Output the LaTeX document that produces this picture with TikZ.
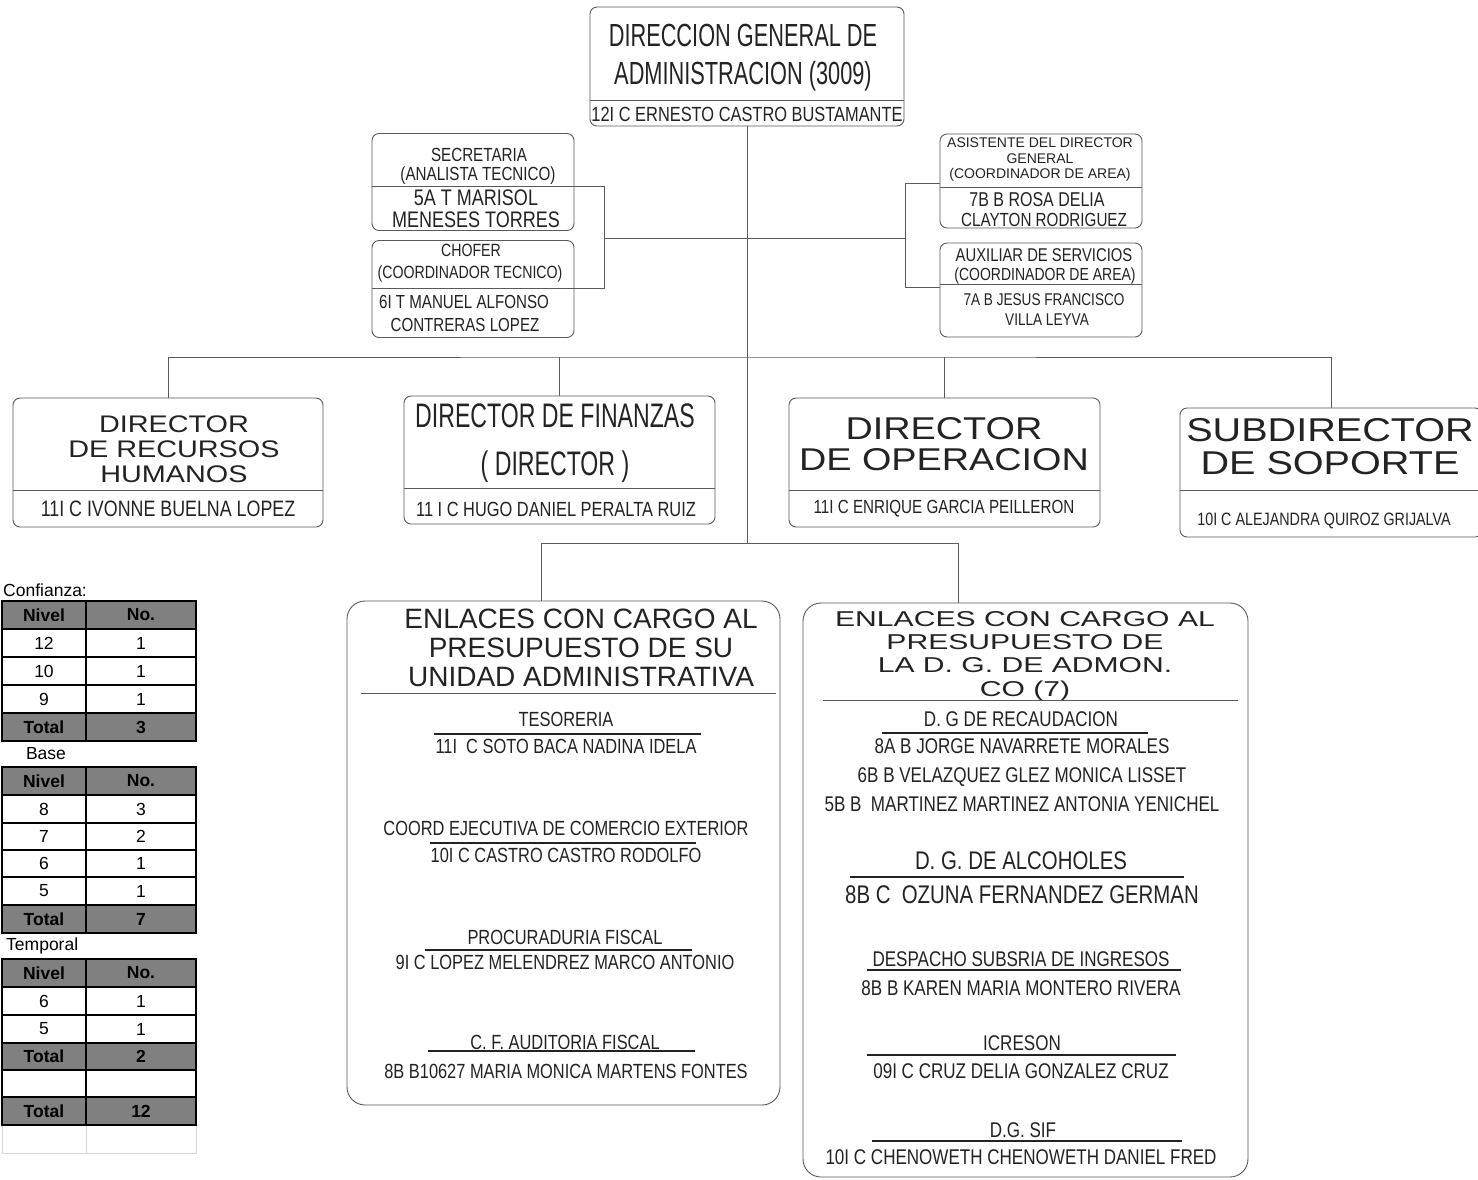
\documentclass[tikz,border=0pt]{standalone}
\usepackage{fontspec}
\setmainfont{Liberation Sans}
\newfontfamily\narrowfont[FakeStretch=0.8]{Liberation Sans}
\newfontfamily\condfont[FakeStretch=0.68]{Liberation Sans}
\newfontfamily\widefont[FakeStretch=1.2]{Liberation Sans}
\newfontfamily\widerfont[FakeStretch=1.4]{Liberation Sans}
\newcommand\fsz[2]{\fontsize{#1}{#2}\selectfont}

\definecolor{linegray}{RGB}{90,90,90}
\definecolor{inkgray}{RGB}{35,35,35}
\definecolor{cellgray}{RGB}{128,128,128}
\definecolor{faintgray}{RGB}{215,215,215}

\begin{document}
\begin{tikzpicture}[x=1pt,y=-1pt,
    box/.style={draw=linegray, line width=0.9pt, rounded corners=7pt, inner sep=0pt},
    bigbox/.style={draw=linegray, line width=0.9pt, rounded corners=18pt, inner sep=0pt},
    conn/.style={draw=linegray, line width=0.9pt},
    rule/.style={draw=inkgray, line width=1.1pt},
    txt/.style={inner sep=0pt, text=inkgray, align=center},
    nar/.style={txt, font=\narrowfont\fsz{#1}{#1}},
    cellbox/.style={draw=black, line width=1.5pt},
    celltxt/.style={inner sep=0pt, text=black, font=\fsz{17.5}{18}#1}]

  \fill[white] (0,0) rectangle (1478,1179);
  \useasboundingbox (0,0) rectangle (1478,1179);

  % direccion general
  \node[box, minimum width=314pt, minimum height=119pt] (dga) at (747,66.5) {};
  \draw[conn] (590,100) -- (904,100);
  \node[txt, font=\condfont\fsz{32}{38}] (dgat) at (743,58) {DIRECCION GENERAL DE\\ADMINISTRACION (3009)};
  \node[nar=20.5] (dgan) at (747,114) {12I C ERNESTO CASTRO BUSTAMANTE};

  % asistentes izquierda
  \node[box, minimum width=202pt, minimum height=97pt] (sec) at (473,182) {};
  \node[nar=19] (sect) at (479,155) {SECRETARIA};
  \node[nar=19] (secc) at (478,176) {(ANALISTA TECNICO)};
  \node[nar=22.5] (secn) at (476,208.5) {5A T MARISOL\\MENESES TORRES};
  \node[box, minimum width=202pt, minimum height=97pt] (cho) at (473,289) {};
  \node[nar=17.7] (chot) at (471,250.5) {CHOFER};
  \node[nar=17.7] (choc) at (470,273.5) {(COORDINADOR TECNICO)};
  \node[nar=18.9] (chon1) at (464,301.5) {6I T MANUEL ALFONSO};
  \node[nar=18.9] (chon2) at (465,324.5) {CONTRERAS LOPEZ};

  % asistentes derecha
  \node[box, minimum width=202pt, minimum height=94pt] (asi) at (1041,181) {};
  \draw[conn] (940,187) -- (1142,187);
  \node[txt, font=\fsz{14}{15.5}] (asit) at (1040,160) {ASISTENTE DEL DIRECTOR\\GENERAL\\(COORDINADOR DE AREA)};
  \node[nar=20] (asin1) at (1037,200) {7B B ROSA DELIA};
  \node[nar=19] (asin2) at (1044,220) {CLAYTON RODRIGUEZ};
  \node[box, minimum width=202pt, minimum height=94pt] (aux) at (1041,290) {};
  \draw[conn] (940,284) -- (1142,284);
  \node[nar=18.5] (auxt) at (1044,255) {AUXILIAR DE SERVICIOS};
  \node[nar=17.5] (auxc) at (1045,276) {(COORDINADOR DE AREA)};
  \node[nar=17] (auxn1) at (1044,300) {7A B JESUS FRANCISCO};
  \node[nar=17] (auxn2) at (1047,320) {VILLA LEYVA};

  % directores
  \node[box, minimum width=310pt, minimum height=129pt] (d1) at (168,462.5) {};
  \draw[conn] (13,490) -- (323,490);
  \node[txt, font=\widefont\fsz{24}{25}] (d1t) at (174,449) {DIRECTOR\\DE RECURSOS\\HUMANOS};
  \node[nar=22.3] (d1n) at (168,508.5) {11I C IVONNE BUELNA LOPEZ};

  \node[box, minimum width=311pt, minimum height=128pt] (d2) at (559.5,460) {};
  \draw[conn] (404,488) -- (715,488);
  \node[txt, font=\condfont\fsz{34}{48.5}] (d2t) at (555,443) {DIRECTOR DE FINANZAS\\( DIRECTOR )};
  \node[nar=20.5] (d2n) at (556,509) {11 I C HUGO DANIEL PERALTA RUIZ};

  \node[box, minimum width=311pt, minimum height=129pt] (d3) at (944.5,462.5) {};
  \draw[conn] (789,490) -- (1100,490);
  \node[txt, font=\widefont\fsz{31.5}{31}] (d3t) at (944,444.5) {DIRECTOR\\DE OPERACION};
  \node[nar=19] (d3n) at (944,509) {11I C ENRIQUE GARCIA PEILLERON};

  \node[box, minimum width=302pt, minimum height=129pt] (d4) at (1331,472.5) {};
  \draw[conn] (1180,490) -- (1482,490);
  \node[txt, font=\widefont\fsz{33}{33}] (d4t) at (1330,447) {SUBDIRECTOR\\DE SOPORTE};
  \node[nar=17.9] (d4n) at (1324,521) {10I C ALEJANDRA QUIROZ GRIJALVA};

  % enlaces
  \node[bigbox, minimum width=433pt, minimum height=504pt] (e1) at (563.5,853) {};
  \node[txt, font=\fsz{28}{29}] (e1t) at (581,648) {ENLACES CON CARGO AL\\PRESUPUESTO DE SU\\UNIDAD ADMINISTRATIVA};
  \draw[conn] (361,693) -- (776,693);
  \node[nar=20.5] (tes) at (566,719) {TESORERIA};
  \draw[rule] (434,734) -- (701,734);
  \node[nar=20.5] (tesn) at (566,746) {11I\ \ C SOTO BACA NADINA IDELA};
  \node[nar=20.5] (coe) at (566,828) {COORD EJECUTIVA DE COMERCIO EXTERIOR};
  \draw[rule] (430,843) -- (696,843);
  \node[nar=20.5] (coen) at (566,855) {10I C CASTRO CASTRO RODOLFO};
  \node[nar=20.5] (prf) at (565,937) {PROCURADURIA FISCAL};
  \draw[rule] (425,950) -- (692,950);
  \node[nar=20.5] (prfn) at (565,962) {9I C LOPEZ MELENDREZ MARCO ANTONIO};
  \node[nar=20.5] (cfa) at (565,1042) {C. F. AUDITORIA FISCAL};
  \draw[rule] (428,1051) -- (695,1051);
  \node[nar=20.5] (cfan) at (566,1071) {8B B10627 MARIA MONICA MARTENS FONTES};

  \node[bigbox, minimum width=445pt, minimum height=574pt] (e2) at (1025.5,890) {};
  \node[txt, font=\widerfont\fsz{21.5}{23.3}] (e2t) at (1025,656) {ENLACES CON CARGO AL\\PRESUPUESTO DE\\LA D. G. DE ADMON.\\CO (7)};
  \draw[conn] (823,700) -- (1238,700);
  \node[nar=21.3] (rec) at (1021,719) {D. G DE RECAUDACION};
  \draw[rule] (882,733) -- (1148,733);
  \node[txt, font=\narrowfont\fsz{21.3}{29}] (recn) at (1022,775) {8A B JORGE NAVARRETE MORALES\\6B B VELAZQUEZ GLEZ MONICA LISSET\\5B B\ \ MARTINEZ MARTINEZ ANTONIA YENICHEL};
  \node[nar=25.5] (alc) at (1021,861) {D. G. DE ALCOHOLES};
  \draw[rule] (850,877) -- (1184,877);
  \node[nar=25.5] (alcn) at (1022,895) {8B C\ \ OZUNA FERNANDEZ GERMAN};
  \node[nar=21.3] (dsi) at (1021,959) {DESPACHO SUBSRIA DE INGRESOS};
  \draw[rule] (867,970) -- (1181,970);
  \node[nar=21.3] (dsin) at (1021,988) {8B B KAREN MARIA MONTERO RIVERA};
  \node[nar=21.3] (icr) at (1022,1043) {ICRESON};
  \draw[rule] (867,1055) -- (1176,1055);
  \node[nar=21.3] (icrn) at (1021,1071) {09I C CRUZ DELIA GONZALEZ CRUZ};
  \node[nar=21.3] (sif) at (1023,1130) {D.G. SIF};
  \draw[rule] (872,1141) -- (1182,1141);
  \node[nar=21.3] (sifn) at (1021,1157) {10I C CHENOWETH CHENOWETH DANIEL FRED};

  % conectores
  \coordinate (ja) at (747,238);
  \coordinate (jd) at (747,357);
  \coordinate (je) at (747,543);
  \coordinate (lb1) at (604,186);
  \coordinate (lb2) at (604,288);
  \coordinate (rb1) at (905,183);
  \coordinate (rb2) at (905,287);
  \coordinate (ek1) at (541,543);
  \coordinate (ek2) at (958,543);
  \draw[conn] (dga.south) -- (je);
  \draw[conn] (sec.west |- lb1) -- (lb1) -- (lb2) -- (cho.west |- lb2);
  \draw[conn] (asi.west |- rb1) -- (rb1) -- (rb2) -- (aux.west |- rb2);
  \draw[conn] (lb1 |- ja) -- (rb1 |- ja);
  \draw[conn] (d1.north) |- (jd) -| (d4.north);
  \draw[conn] (d2.north) -- (d2.north |- jd);
  \draw[conn] (d3.north) -- (d3.north |- jd);
  \draw[conn] (ek1) -- (ek2);
  \draw[conn] (ek1) -- (ek1 |- e1.north);
  \draw[conn] (ek2) -- (ek2 |- e2.north);

  % tablas
  \node[txt, text=black, anchor=west, font=\fsz{17.5}{18}] (conf) at (3,590) {Confianza:};
  \foreach \ya/\yb/\l/\r/\f/\w [count=\i] in {601/629/Nivel/No./cellgray/\bfseries,
      629/657/12/1/white/\mdseries, 657/685/10/1/white/\mdseries,
      685/713/9/1/white/\mdseries, 713/741/Total/3/cellgray/\bfseries}{
    \draw[cellbox, fill=\f] (2,\ya) rectangle (86,\yb);
    \draw[cellbox, fill=\f] (86,\ya) rectangle (196,\yb);
    \node[celltxt=\w] (ta\i) at (44,{(\ya+\yb)/2}) {\l};
    \node[celltxt=\w] (tb\i) at (141,{(\ya+\yb)/2}) {\r};
  }
  \node[txt, text=black, font=\fsz{17.5}{18}] (base) at (46,754) {Base};
  \foreach \ya/\yb/\l/\r/\f/\w [count=\i] in {767/795/Nivel/No./cellgray/\bfseries,
      795/823/8/3/white/\mdseries, 823/850/7/2/white/\mdseries,
      850/877/6/1/white/\mdseries, 877/905/5/1/white/\mdseries,
      905/933/Total/7/cellgray/\bfseries}{
    \draw[cellbox, fill=\f] (2,\ya) rectangle (86,\yb);
    \draw[cellbox, fill=\f] (86,\ya) rectangle (196,\yb);
    \node[celltxt=\w] (tc\i) at (44,{(\ya+\yb)/2}) {\l};
    \node[celltxt=\w] (td\i) at (141,{(\ya+\yb)/2}) {\r};
  }
  \node[txt, text=black, anchor=west, font=\fsz{17.5}{18}] (temp) at (6,946) {Temporal};
  \foreach \ya/\yb/\l/\r/\f/\w [count=\i] in {959/987/Nivel/No./cellgray/\bfseries,
      987/1015/6/1/white/\mdseries, 1015/1043/5/1/white/\mdseries,
      1043/1070/Total/2/cellgray/\bfseries, 1070/1097/{}/{}/white/\mdseries,
      1097/1125/Total/12/cellgray/\bfseries}{
    \draw[cellbox, fill=\f] (2,\ya) rectangle (86,\yb);
    \draw[cellbox, fill=\f] (86,\ya) rectangle (196,\yb);
    \node[celltxt=\w] (te\i) at (44,{(\ya+\yb)/2}) {\l};
    \node[celltxt=\w] (tf\i) at (141,{(\ya+\yb)/2}) {\r};
  }
  \draw[faintgray, line width=1pt] (2,1126) -- (2,1153) -- (196,1153) -- (196,1126);
  \draw[faintgray, line width=1pt] (86,1126) -- (86,1153);
\end{tikzpicture}
\end{document}
